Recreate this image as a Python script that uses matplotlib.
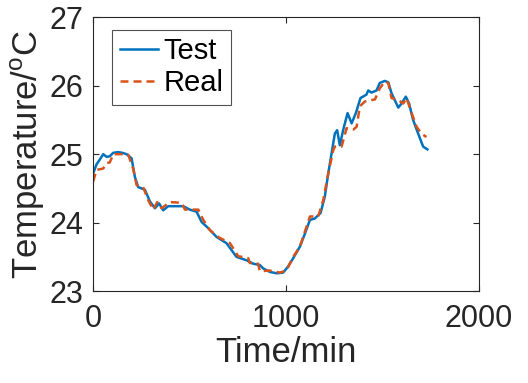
import matplotlib
matplotlib.use("Agg")
import matplotlib.pyplot as plt

plt.rcParams['font.family'] = ['Liberation Sans', 'DejaVu Sans']
plt.rcParams['mathtext.fontset'] = 'custom'
plt.rcParams['mathtext.rm'] = 'Liberation Sans'

# test (model) curve
test_t = [0, 17, 34, 52, 70, 86, 104, 130, 150, 173, 199, 216, 233, 268, 294, 320, 342, 363,
          389, 415, 467, 501, 536, 562, 596, 640, 691, 743, 795, 830, 864, 882, 916, 951,
          985, 1011, 1037, 1072, 1098, 1124, 1149, 1179, 1201, 1219, 1236, 1253, 1265, 1279,
          1296, 1319, 1340, 1362, 1386, 1417, 1426, 1443, 1469, 1486, 1512, 1530, 1547, 1582,
          1599, 1621, 1638, 1659, 1685, 1711, 1733]
test_v = [24.72, 24.85, 24.92, 25.0, 24.96, 24.97, 25.02, 25.03, 25.02, 25.0, 24.94, 24.67,
          24.52, 24.48, 24.31, 24.21, 24.28, 24.18, 24.24, 24.24, 24.24, 24.19, 24.16, 24.01,
          23.92, 23.79, 23.70, 23.50, 23.45, 23.40, 23.38, 23.33, 23.28, 23.26, 23.27, 23.36,
          23.48, 23.65, 23.84, 24.04, 24.06, 24.14, 24.38, 24.72, 25.01, 25.30, 25.35, 25.13,
          25.35, 25.60, 25.45, 25.60, 25.82, 25.87, 25.93, 25.90, 25.93, 26.04, 26.07, 26.05,
          25.89, 25.68, 25.74, 25.84, 25.74, 25.50, 25.30, 25.11, 25.07]

# measured curve
real_t = [0, 17, 52, 70, 86, 104, 156, 182, 207, 225, 259, 285, 311, 332, 354, 398, 458, 476,
          545, 571, 605, 648, 709, 752, 804, 812, 855, 864, 916, 968, 1002, 1037, 1072, 1106,
          1124, 1167, 1193, 1219, 1245, 1253, 1288, 1314, 1349, 1366, 1383, 1409, 1461, 1486,
          1512, 1530, 1547, 1582, 1608, 1625, 1651, 1677, 1702, 1728]
real_v = [24.60, 24.77, 24.79, 24.87, 24.88, 25.0, 25.0, 24.99, 24.79, 24.55, 24.52, 24.33,
          24.19, 24.30, 24.21, 24.30, 24.29, 24.19, 24.19, 24.04, 23.89, 23.79, 23.70, 23.51,
          23.48, 23.41, 23.40, 23.29, 23.30, 23.27, 23.30, 23.50, 23.65, 23.94, 24.09, 24.09,
          24.33, 24.72, 25.06, 25.11, 25.11, 25.38, 25.36, 25.40, 25.70, 25.77, 25.80, 25.96,
          26.06, 26.04, 25.82, 25.79, 25.74, 25.82, 25.60, 25.40, 25.30, 25.25]

fig = plt.figure(figsize=(5.28, 3.83), dpi=100)
ax = fig.add_axes([0.1765, 0.240, 0.7305, 0.715])

ax.plot(test_t, test_v, color='#0072BD', lw=1.8, label='Test')
ax.plot(real_t, real_v, color='#D95319', lw=1.8, ls=(0, (3.2, 2.0)), label='Real')

ax.set_xlim(0, 2000)
ax.set_ylim(23, 27)
ax.set_xticks([0, 1000, 2000])
ax.set_yticks([23, 24, 25, 26, 27])
ax.tick_params(direction='in', top=True, right=True, labelsize=22, length=4,
               width=0.8, colors='#262626')
ax.tick_params(axis='x', pad=9)
ax.tick_params(axis='y', pad=7)
for s in ax.spines.values():
    s.set_color('#262626')
    s.set_linewidth(0.8)

ax.set_xlabel('Time/min', fontsize=25, color='#262626', labelpad=2)
ax.set_ylabel('Temperature/$^{\\mathrm{o}}$C', fontsize=25, color='#262626', labelpad=2)

leg = ax.legend(loc='upper left', fontsize=21, frameon=True, fancybox=False,
                edgecolor='#262626', handlelength=1.3, handletextpad=0.2,
                borderpad=0.25, labelspacing=0.15, borderaxespad=0,
                bbox_to_anchor=(0.05, 0.955))
leg.get_frame().set_linewidth(0.8)

fig.savefig('out.png', dpi=100)
